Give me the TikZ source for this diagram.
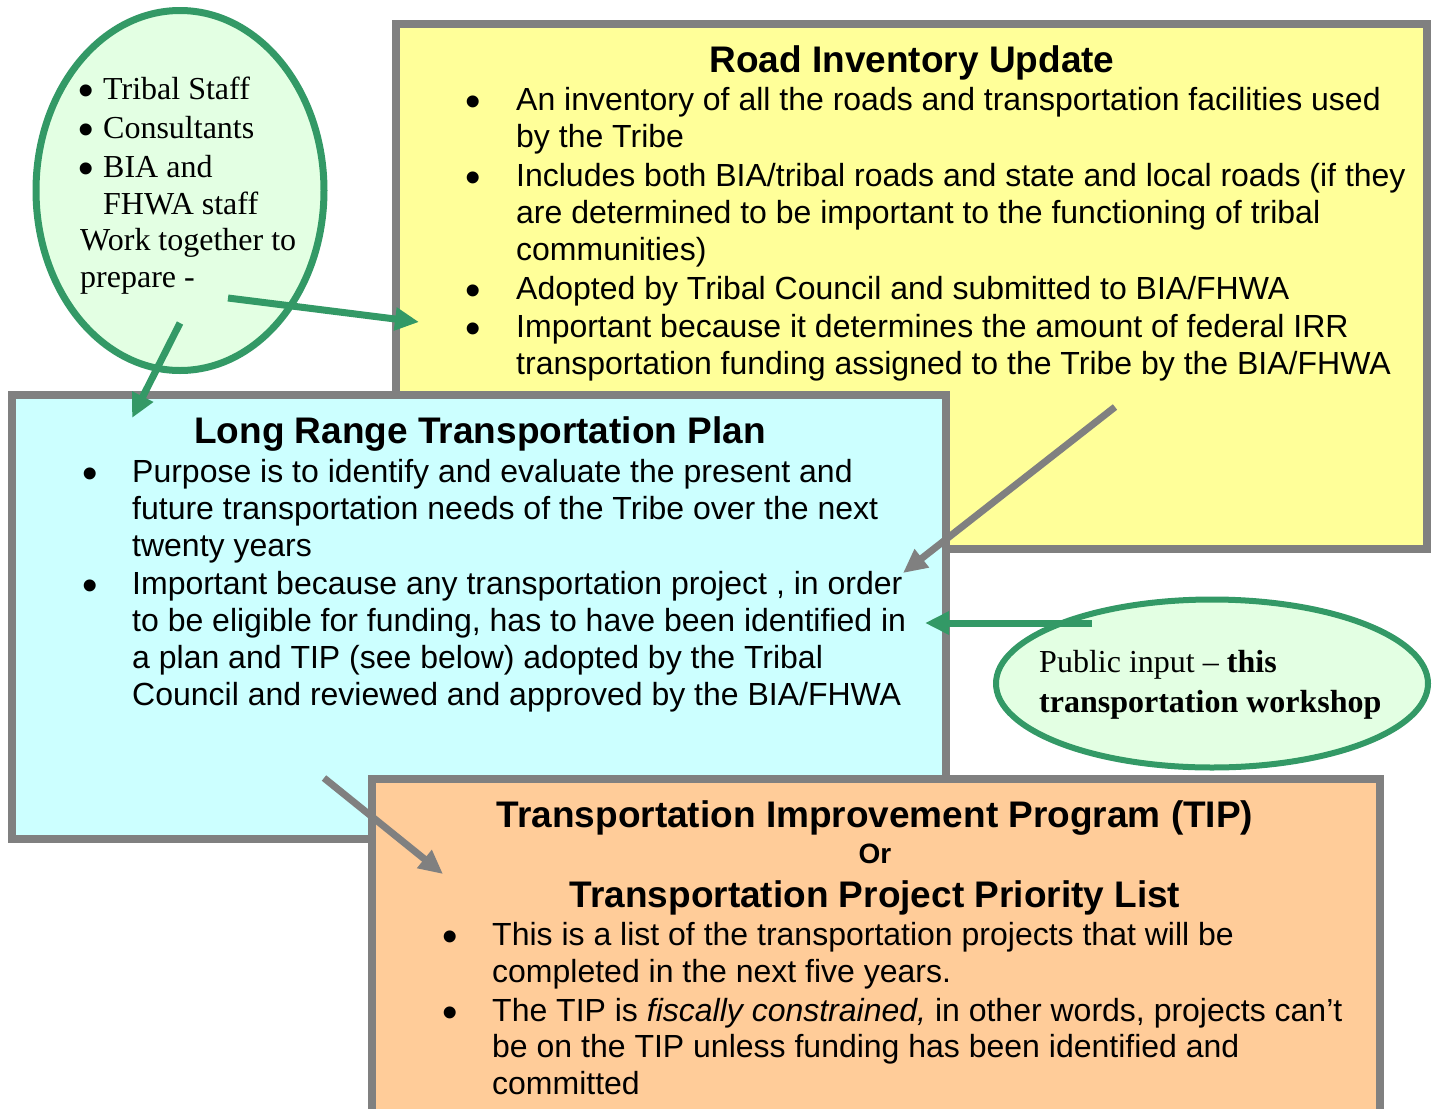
\documentclass[tikz,border=0pt]{standalone}
\usepackage{fontspec}
\setmainfont{Liberation Sans}
\newfontfamily\tmsfont{Liberation Serif}
\usetikzlibrary{shapes.geometric,arrows.meta}
\definecolor{boxgray}{HTML}{808080}
\definecolor{yel}{HTML}{FFFF99}
\definecolor{cyanbox}{HTML}{CCFFFF}
\definecolor{orangebox}{HTML}{FFCC99}
\definecolor{grn}{HTML}{339966}
\definecolor{grnfill}{HTML}{E3FFE3}
\begin{document}
\begin{tikzpicture}[x=1pt,y=-1pt,
  panel/.style={draw=boxgray,line width=8pt,rectangle,inner sep=0pt,outer sep=0pt},
  bubble/.style={ellipse,draw=grn,fill=grnfill,inner sep=0pt},
  body/.style={anchor=base west,inner sep=0pt,font=\fontsize{32}{37}\selectfont},
  bul/.style={anchor=base,inner sep=0pt,yshift=-6.5pt,font=\fontsize{44}{50}\selectfont},
  ttl/.style={anchor=base,inner sep=0pt,font=\fontsize{37}{42}\selectfont\bfseries},
  serif/.style={anchor=base west,inner sep=0pt,font=\tmsfont\fontsize{32}{37}\selectfont},
  garrow/.style={draw=grn,line width=7pt,-{Triangle[length=24pt,width=22pt]}},
  karrow/.style={draw=boxgray,line width=7pt,-{Triangle[length=24pt,width=22pt]}},
]
\path[use as bounding box,clip] (0,0) rectangle (1436,1109);

% panels and bubbles
\node[panel,fill=yel,minimum width=1031pt,minimum height=525pt] (road) at (911.5,286.5) {};
\node[bubble,line width=7pt,minimum width=288pt,minimum height=360pt] (team) at (180,190.5) {};
\node[panel,fill=cyanbox,minimum width=934pt,minimum height=444pt] (lrtp) at (479,617) {};
\node[panel,fill=orangebox,minimum width=1008pt,minimum height=361pt] (tip) at (876,959.5) {};
\node[bubble,line width=6pt,minimum width=432pt,minimum height=168pt] (pub) at (1212,683.5) {};

% team bubble text
\node[bul] (tb1) at (86.5,99) {•};
\node[serif] (tt1) at (103,99) {Tribal Staff};
\node[bul] (tb2) at (86.5,138) {•};
\node[serif] (tt2) at (103,138) {Consultants};
\node[bul] (tb3) at (86.5,177) {•};
\node[serif] (tt3) at (103,177) {BIA and};
\node[serif] (tt4) at (103,214) {FHWA staff};
\node[serif] (tt5) at (80,250) {Work together to};
\node[serif] (tt6) at (80,287) {prepare -};

% road inventory text
\node[ttl] (rtitle) at (912,72) {Road Inventory Update};
\node[bul] (rb1) at (473,110) {•};
\node[body] (r1) at (516,110) {An inventory of all the roads and transportation facilities used};
\node[body] (r2) at (516,147) {by the Tribe};
\node[bul] (rb2) at (473,186) {•};
\node[body] (r3) at (516,186) {Includes both BIA/tribal roads and state and local roads (if they};
\node[body] (r4) at (516,223) {are determined to be important to the functioning of tribal};
\node[body] (r5) at (516,260) {communities)};
\node[bul] (rb3) at (473,299) {•};
\node[body] (r6) at (516,299) {Adopted by Tribal Council and submitted to BIA/FHWA};
\node[bul] (rb4) at (473,337) {•};
\node[body] (r7) at (516,337) {Important because it determines the amount of federal IRR};
\node[body] (r8) at (516,374) {transportation funding assigned to the Tribe by the BIA/FHWA};

% long range plan text
\node[ttl] (ltitle) at (480,443) {Long Range Transportation Plan};
\node[bul] (lb1) at (90,482) {•};
\node[body] (l1) at (132,482) {Purpose is to identify and evaluate the present and};
\node[body] (l2) at (132,519) {future transportation needs of the Tribe over the next};
\node[body] (l3) at (132,556) {twenty years};
\node[bul] (lb2) at (90,594) {•};
\node[body] (l4) at (132,594) {Important because any transportation project , in order};
\node[body] (l5) at (132,631) {to be eligible for funding, has to have been identified in};
\node[body] (l6) at (132,668) {a plan and TIP (see below) adopted by the Tribal};
\node[body] (l7) at (132,705) {Council and reviewed and approved by the BIA/FHWA};

% public input text
\node[serif] (p1) at (1039,672) {Public input – \textbf{this}};
\node[serif] (p2) at (1039,712) {\textbf{transportation workshop}};

% TIP text
\node[ttl] (ttitle1) at (875,827) {Transportation Improvement Program (TIP)};
\node[anchor=base,inner sep=0pt,font=\fontsize{28}{32}\selectfont\bfseries] (tor) at (875,863) {Or};
\node[ttl] (ttitle2) at (875,907) {Transportation Project Priority List};
\node[bul] (tb1x) at (450,945) {•};
\node[body] (t1) at (492,945) {This is a list of the transportation projects that will be};
\node[body] (t2) at (492,982) {completed in the next five years.};
\node[bul] (tb2x) at (450,1021) {•};
\node[body] (t3) at (492,1021) {The TIP is \textit{fiscally constrained,} in other words, projects can’t};
\node[body] (t4) at (492,1057) {be on the TIP unless funding has been identified and};
\node[body] (t5) at (492,1094) {committed};

% connectors
\coordinate (a1s) at (228,298);
\coordinate (a1e) at (419,322);
\coordinate (a2s) at (180,323);
\coordinate (a2e) at (132,418);
\coordinate (a3s) at (1115,407);
\coordinate (a3e) at (903,573);
\coordinate (a4s) at (1092,623);
\coordinate (a4e) at (925,623);
\coordinate (a5s) at (324,778);
\coordinate (a5e) at (443,874);
\draw[garrow] (a1s) -- (a1e);
\draw[garrow] (a2s) -- (a2e);
\draw[karrow] (a3s) -- (a3e);
\draw[garrow] (a4s) -- (a4e);
\draw[karrow] (a5s) -- (a5e);
\end{tikzpicture}
\end{document}
